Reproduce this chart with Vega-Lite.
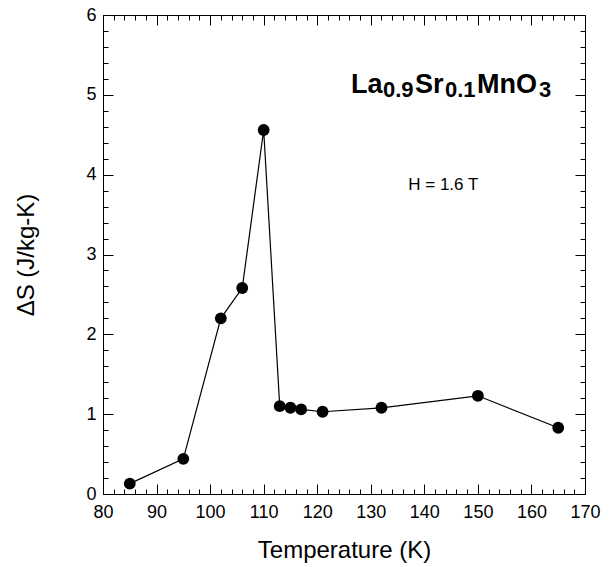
{
  "$schema": "https://vega.github.io/schema/vega-lite/v6.json",
  "width": 482,
  "height": 479,
  "autosize": {"type": "none"},
  "padding": {"left": 103, "top": 15, "right": 28, "bottom": 73},
  "background": "white",
  "config": {
    "view": {"stroke": "black", "strokeWidth": 1},
    "font": "Liberation Sans",
    "axis": {
      "domainColor": "black",
      "tickColor": "black",
      "tickWidth": 1,
      "labelColor": "black",
      "titleColor": "black",
      "labelFont": "Liberation Sans",
      "titleFont": "Liberation Sans",
      "labelFontSize": 18,
      "titleFontSize": 24,
      "titleFontWeight": "normal",
      "grid": false,
      "labelOverlap": false
    }
  },
  "datasets": {
    "pts": [
      {"T": 85, "S": 0.13},
      {"T": 95, "S": 0.44},
      {"T": 102, "S": 2.2},
      {"T": 106, "S": 2.58},
      {"T": 110, "S": 4.56},
      {"T": 113, "S": 1.1},
      {"T": 115, "S": 1.08},
      {"T": 117, "S": 1.06},
      {"T": 121, "S": 1.03},
      {"T": 132, "S": 1.08},
      {"T": 150, "S": 1.23},
      {"T": 165, "S": 0.83}
    ],
    "notes": [
      {"x": 126.31, "y": 5.02, "t": "La", "kind": "big"},
      {"x": 138.26, "y": 5.02, "t": "Sr", "kind": "big"},
      {"x": 149.83, "y": 5.02, "t": "MnO", "kind": "big"},
      {"x": 132.28, "y": 4.97, "t": "0.9", "kind": "sub"},
      {"x": 143.86, "y": 4.97, "t": "0.1", "kind": "sub"},
      {"x": 161.41, "y": 4.97, "t": "3", "kind": "sub"},
      {"x": 137.0, "y": 3.81, "t": "H = 1.6 T", "kind": "h"}
    ]
  },
  "resolve": {"scale": {"x": "independent", "y": "independent"}},
  "layer": [
    {
      "data": {"name": "pts"},
      "mark": {"type": "line", "color": "black", "strokeWidth": 1.2},
      "encoding": {
        "x": {
          "field": "T", "type": "quantitative",
          "scale": {"domain": [80, 170], "nice": false, "zero": false},
          "axis": {
            "orient": "bottom",
            "title": "Temperature (K)",
            "ticks": true,
            "values": [80,82,84,86,88,90,92,94,96,98,100,102,104,106,108,110,112,114,116,118,120,122,124,126,128,130,132,134,136,138,140,142,144,146,148,150,152,154,156,158,160,162,164,166,168,170],
            "labelExpr": "datum.value % 10 === 0 ? format(datum.value, 'd') : ''",
            "labelOverlap": false,
            "labelFlush": false,
            "tickSize": {"condition": {"test": "datum.value % 10 === 0", "value": -10}, "value": -5},
            "labelPadding": 19,
            "titlePadding": 12
          }
        },
        "y": {
          "field": "S", "type": "quantitative",
          "scale": {"domain": [0, 6], "nice": false},
          "axis": {
            "orient": "left",
            "title": "ΔS (J/kg-K)",
            "ticks": true,
            "values": [0,0.2,0.4,0.6,0.8,1,1.2,1.4,1.6,1.8,2,2.2,2.4,2.6,2.8,3,3.2,3.4,3.6,3.8,4,4.2,4.4,4.6,4.8,5,5.2,5.4,5.6,5.8,6],
            "labelExpr": "abs(datum.value - round(datum.value)) < 0.01 ? format(datum.value, 'd') : ''",
            "labelOverlap": false,
            "labelFlush": false,
            "tickSize": {"condition": {"test": "abs(datum.value - round(datum.value)) < 0.01", "value": -10}, "value": -5},
            "labelPadding": 17,
            "titlePadding": 47
          }
        }
      }
    },
    {
      "data": {"name": "pts"},
      "mark": {"type": "line", "opacity": 0},
      "encoding": {
        "x": {
          "field": "T", "type": "quantitative",
          "scale": {"domain": [80, 170], "nice": false, "zero": false},
          "axis": {
            "orient": "top", "title": null, "labels": false,
            "values": [80,82,84,86,88,90,92,94,96,98,100,102,104,106,108,110,112,114,116,118,120,122,124,126,128,130,132,134,136,138,140,142,144,146,148,150,152,154,156,158,160,162,164,166,168,170],
            "tickSize": {"condition": {"test": "datum.value % 10 === 0", "value": -10}, "value": -5}
          }
        },
        "y": {
          "field": "S", "type": "quantitative",
          "scale": {"domain": [0, 6], "nice": false},
          "axis": {
            "orient": "right", "title": null, "labels": false,
            "values": [0,0.2,0.4,0.6,0.8,1,1.2,1.4,1.6,1.8,2,2.2,2.4,2.6,2.8,3,3.2,3.4,3.6,3.8,4,4.2,4.4,4.6,4.8,5,5.2,5.4,5.6,5.8,6],
            "tickSize": {"condition": {"test": "abs(datum.value - round(datum.value)) < 0.01", "value": -10}, "value": -5}
          }
        }
      }
    },
    {
      "data": {"name": "pts"},
      "mark": {"type": "point", "filled": true, "color": "black", "opacity": 1, "size": 140},
      "encoding": {
        "x": {"field": "T", "type": "quantitative", "scale": {"domain": [80, 170], "nice": false, "zero": false}, "axis": null},
        "y": {"field": "S", "type": "quantitative", "scale": {"domain": [0, 6], "nice": false}, "axis": null}
      }
    },
    {
      "data": {"name": "notes"},
      "transform": [{"filter": "datum.kind === 'big'"}],
      "mark": {"type": "text", "align": "left", "baseline": "alphabetic", "fontSize": 27, "fontWeight": "bold", "font": "Liberation Sans", "color": "black"},
      "encoding": {
        "x": {"field": "x", "type": "quantitative", "scale": {"domain": [80, 170], "nice": false, "zero": false}, "axis": null},
        "y": {"field": "y", "type": "quantitative", "scale": {"domain": [0, 6], "nice": false}, "axis": null},
        "text": {"field": "t"}
      }
    },
    {
      "data": {"name": "notes"},
      "transform": [{"filter": "datum.kind === 'sub'"}],
      "mark": {"type": "text", "align": "left", "baseline": "alphabetic", "fontSize": 22, "fontWeight": "bold", "font": "Liberation Sans", "color": "black"},
      "encoding": {
        "x": {"field": "x", "type": "quantitative", "scale": {"domain": [80, 170], "nice": false, "zero": false}, "axis": null},
        "y": {"field": "y", "type": "quantitative", "scale": {"domain": [0, 6], "nice": false}, "axis": null},
        "text": {"field": "t"}
      }
    },
    {
      "data": {"name": "notes"},
      "transform": [{"filter": "datum.kind === 'h'"}],
      "mark": {"type": "text", "align": "left", "baseline": "alphabetic", "fontSize": 17, "font": "Liberation Sans", "color": "black"},
      "encoding": {
        "x": {"field": "x", "type": "quantitative", "scale": {"domain": [80, 170], "nice": false, "zero": false}, "axis": null},
        "y": {"field": "y", "type": "quantitative", "scale": {"domain": [0, 6], "nice": false}, "axis": null},
        "text": {"field": "t"}
      }
    }
  ]
}
